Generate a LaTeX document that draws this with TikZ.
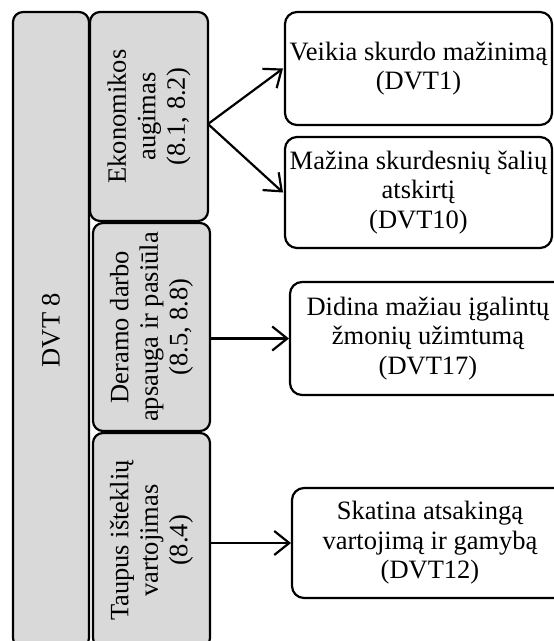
\documentclass[tikz,border=0pt]{standalone}
\usepackage{fontspec}
\setmainfont{Liberation Serif}
\usetikzlibrary{arrows.meta}
\definecolor{boxgrey}{HTML}{D9D9D9}
\begin{document}
\begin{tikzpicture}[x=1pt,y=-1pt,
  every node/.style={font=\fontsize{26.5}{29.5}\selectfont, align=center, inner sep=0pt, outer sep=0pt},
  lbox/.style={draw=black, line width=2.2pt, fill=boxgrey, rounded corners=10pt, rotate=90},
  rbox/.style={draw=black, line width=2.2pt, fill=white, rounded corners=12pt},
  arr/.style={line width=2.2pt, -{Straight Barb[length=15pt,width=24pt]}}]
\path[use as bounding box] (0,0) rectangle (554,641);
\clip (0,0) rectangle (554,641);
% left column
\node[lbox, minimum width=636pt, minimum height=76pt] (dvt) at (51,330) {DVT 8};
\node[lbox, minimum width=209pt, minimum height=118pt] (e1) at (149,116.5) {Ekonomikos\\augimas\\(8.1, 8.2)};
\node[lbox, minimum width=208pt, minimum height=117pt] (e2) at (151.5,327) {Deramo darbo\\apsauga ir pasiūla\\(8.5, 8.8)};
\node[lbox, minimum width=215pt, minimum height=117pt] (e3) at (151.5,540.5) {Taupus išteklių\\vartojimas\\(8.4)};
% right column
\node[rbox, minimum width=267pt, minimum height=113pt] (a) at (418.5,68.5) {Veikia skurdo mažinimą\\(DVT1)};
\node[rbox, minimum width=267pt, minimum height=111pt] (b) at (418.5,192.5) {Mažina skurdesnių šalių\\atskirtį\\(DVT10)};
\node[rbox, minimum width=276pt, minimum height=113pt] (c) at (428,338.5) {Didina mažiau įgalintų\\žmonių užimtumą\\(DVT17)};
\node[rbox, minimum width=276pt, minimum height=110pt] (d) at (430,543) {Skatina atsakingą\\vartojimą ir gamybą\\(DVT12)};
% connectors
\draw[arr] ([yshift=-7.5pt]e1.south) -- ([xshift=-2pt]a.west);
\draw[arr] ([yshift=-7.5pt]e1.south) -- ([xshift=-2pt]b.west);
\draw[arr] (e2.south |- c.west) -- ([xshift=-1pt]c.west);
\draw[arr] (e3.south |- d.west) -- ([xshift=-1pt]d.west);
\end{tikzpicture}
\end{document}
